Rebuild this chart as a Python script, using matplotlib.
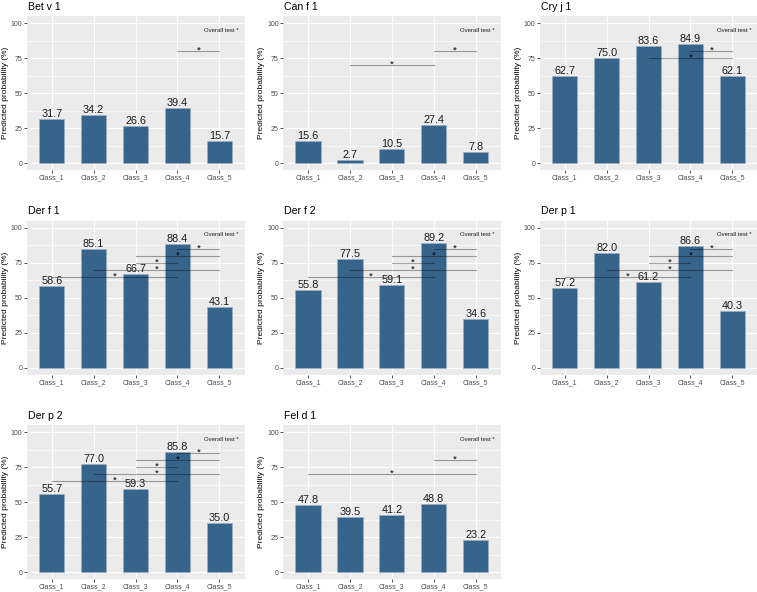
import numpy as np
import matplotlib
matplotlib.use("Agg")
import matplotlib.pyplot as plt

plt.rcParams['font.family'] = ['Liberation Sans', 'DejaVu Sans']

classes = ["Class_1", "Class_2", "Class_3", "Class_4", "Class_5"]

# predicted probabilities per allergen
bet_v1 = [31.7, 34.2, 26.6, 39.4, 15.7]
can_f1 = [15.6, 2.7, 10.5, 27.4, 7.8]
cry_j1 = [62.7, 75.0, 83.6, 84.9, 62.1]
der_f1 = [58.6, 85.1, 66.7, 88.4, 43.1]
der_f2 = [55.8, 77.5, 59.1, 89.2, 34.6]
der_p1 = [57.2, 82.0, 61.2, 86.6, 40.3]
der_p2 = [55.7, 77.0, 59.3, 85.8, 35.0]
fel_d1 = [47.8, 39.5, 41.2, 48.8, 23.2]

# significant pairwise comparisons: (from class, to class, y of bar)
sig_bet = [(4, 5, 80)]
sig_can = [(2, 4, 70), (4, 5, 80)]
sig_cry = [(4, 5, 80), (3, 5, 75)]
sig_der = [(4, 5, 85), (3, 5, 80), (3, 4, 75), (2, 5, 70), (1, 4, 65)]
sig_fel = [(4, 5, 80), (1, 5, 70)]

panels = [
    ("Bet v 1", bet_v1, sig_bet),
    ("Can f 1", can_f1, sig_can),
    ("Cry j 1", cry_j1, sig_cry),
    ("Der f 1", der_f1, sig_der),
    ("Der f 2", der_f2, sig_der),
    ("Der p 1", der_p1, sig_der),
    ("Der p 2", der_p2, sig_der),
    ("Fel d 1", fel_d1, sig_fel),
]

W, H = 757, 592
fig = plt.figure(figsize=(W / 100, H / 100), dpi=100)

col_left = [26.6, 282.9, 539.6]
row_top = [16.3, 220.7, 425.3]
pw, ph = 217.9, 154.0

bar_col = "#36648B"
x = np.arange(1, 6)

for i, (title, vals, sigs) in enumerate(panels):
    r, c = divmod(i, 3)
    ax = fig.add_axes([col_left[c] / W, 1 - (row_top[r] + ph) / H, pw / W, ph / H])
    ax.set_facecolor("#EBEBEB")
    for s in ax.spines.values():
        s.set_visible(False)
    ax.set_xlim(0.4, 5.6)
    ax.set_ylim(-5, 105)
    ax.set_yticks([0, 25, 50, 75, 100])
    ax.set_yticks([12.5, 37.5, 62.5, 87.5], minor=True)
    ax.set_xticks(x)
    ax.set_xticklabels(classes)
    ax.grid(which="major", color="white", lw=0.9)
    ax.grid(which="minor", axis="y", color="white", lw=0.45)
    ax.set_axisbelow(True)
    ax.tick_params(axis="both", which="major", length=2.2, width=0.6, color="#333333",
                   labelsize=5.0, labelcolor="#4D4D4D", pad=0.8)
    ax.tick_params(axis="y", which="minor", length=0)

    ax.bar(x, vals, width=0.6, color=bar_col, edgecolor="#9fb0c4", lw=0.4, zorder=2)
    for xi, v in zip(x, vals):
        ax.annotate(f"{v:.1f}", (xi, v), ha="center", va="bottom", fontsize=7.8,
                    color="#1a1a1a", zorder=4)

    for a, b, y in sigs:
        ax.plot([a, b], [y, y], color="black", alpha=0.35, lw=0.8, zorder=3)
        ax.text((a + b) / 2, y - 1.2, "*", ha="center", va="baseline", fontsize=6.8,
                color="black", zorder=4)

    ax.text(5.45, 95, "Overall test *", ha="right", va="center", fontsize=4.3, color="#1a1a1a")
    ax.set_title(title, loc="left", fontsize=7.6, pad=4.5, x=0.005)
    ax.set_ylabel("Predicted probability (%)", fontsize=6.0, labelpad=1.2)

fig.savefig("out.png", dpi=100)
